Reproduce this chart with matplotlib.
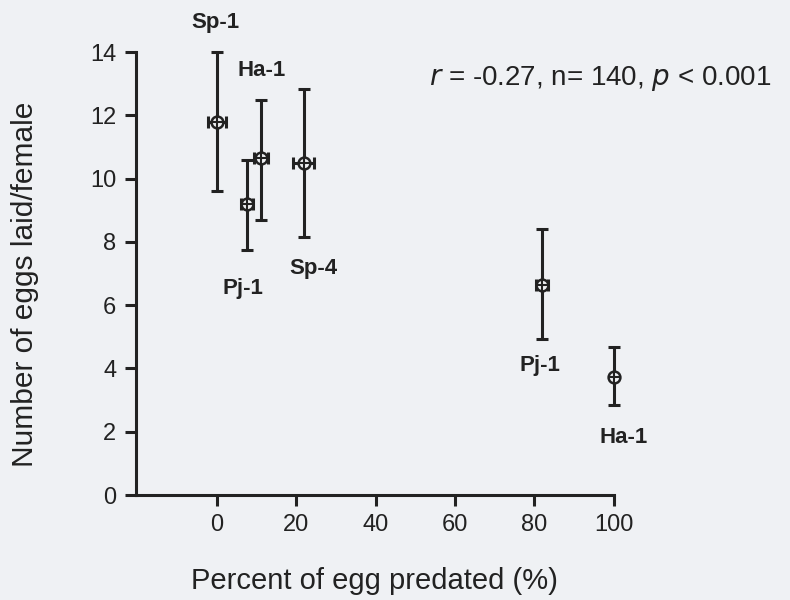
import matplotlib
matplotlib.use("Agg")
import matplotlib.pyplot as plt

# datos
etiquetas = ["Sp-1", "Ha-1", "Pj-1", "Sp-4", "Pj-1", "Ha-1"]
pct_predado = [0, 11.1, 7.6, 21.9, 81.9, 100]
err_pct = [2.2, 1.8, 1.6, 2.6, 1.6, 0]
huevos = [11.8, 10.65, 9.2, 10.5, 6.64, 3.73]
err_sup = [2.2, 1.85, 1.4, 2.35, 1.77, 0.95]
err_inf = [2.2, 1.96, 1.45, 2.35, 1.71, 0.89]

# posiciones de las etiquetas (en coordenadas de datos)
lab_x = [-0.3, 11.3, 6.5, 24.4, 81.4, 102.5]
lab_y = [14.95, 13.43, 6.54, 7.17, 4.11, 1.83]

fondo = "#eff1f4"
tinta = "#222222"

plt.rcParams['font.family'] = ['Liberation Sans', 'DejaVu Sans']

fig = plt.figure(figsize=(7.9, 6), dpi=100, facecolor=fondo)
ax = fig.add_axes([0.172, 0.175, 0.605, 0.738], facecolor=fondo)

ax.errorbar(pct_predado, huevos, yerr=[err_inf, err_sup], xerr=err_pct,
            fmt="none", ecolor=tinta, elinewidth=2.2, capsize=4.5, capthick=2.2,
            zorder=2, clip_on=False)
ax.plot(pct_predado, huevos, "o", ms=8.5, mfc=fondo, mec=tinta, mew=1.8, zorder=3, clip_on=False)
ax.plot(pct_predado, huevos, "+", ms=8.5, mec=tinta, mew=1.5, zorder=4, clip_on=False)

for t, x, y in zip(etiquetas, lab_x, lab_y):
    ax.text(x, y, t, ha="center", va="center", fontsize=16, fontweight="bold",
            color=tinta, clip_on=False)

ax.text(96.5, 13.18, "$\\it{r}$ = -0.27, n= 140, $\\it{p}$ < 0.001", ha="center", va="center",
        fontsize=20, color=tinta, clip_on=False)

ax.set_xlim(-20.4, 100)
ax.set_ylim(0, 14)
ax.set_xticks([0, 20, 40, 60, 80, 100])
ax.set_yticks([0, 2, 4, 6, 8, 10, 12, 14])
ax.spines["top"].set_visible(False)
ax.spines["right"].set_visible(False)
for s in ["left", "bottom"]:
    ax.spines[s].set_linewidth(2.2)
    ax.spines[s].set_color(tinta)
ax.tick_params(direction="out", length=8, width=2.2, color=tinta, labelsize=17,
               labelcolor=tinta, pad=6)

ax.set_xlabel("Percent of egg predated (%)", fontsize=21, color=tinta, labelpad=22)
ax.set_ylabel("Number of eggs laid/female", fontsize=21.5, color=tinta)
ax.yaxis.set_label_coords(-0.203, 0.475)

fig.savefig("out.png", dpi=100, facecolor=fondo)
